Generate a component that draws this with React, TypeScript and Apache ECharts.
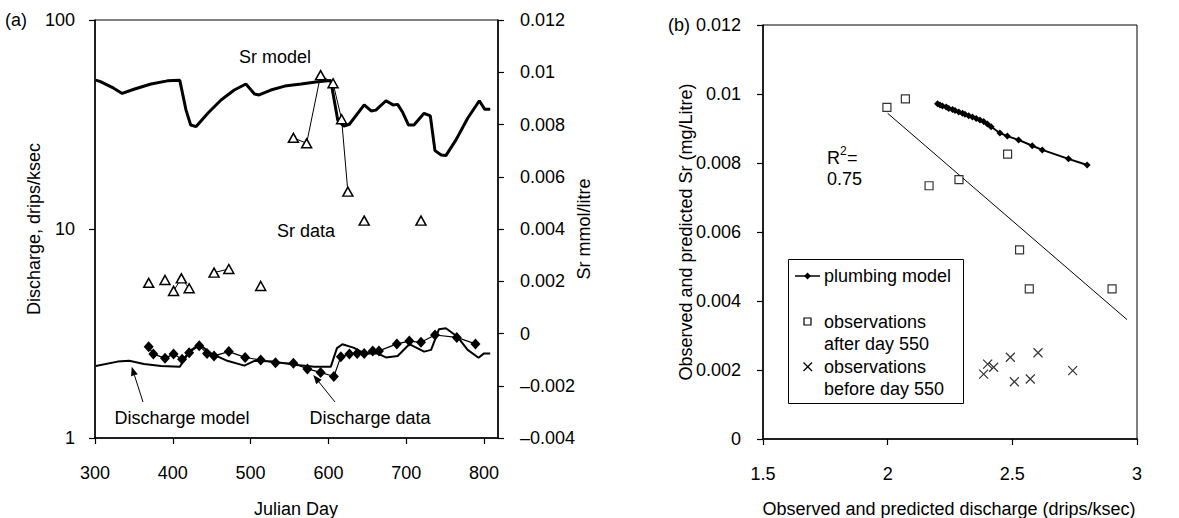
import React, { useEffect, useRef } from "react";
import * as echarts from "echarts";

const FONT = "'Liberation Sans', Arial, Helvetica, sans-serif";

// ---------- Panel (a) ----------
const dayTicks = [300, 400, 500, 600, 700, 800];

const srModelDays = [301, 307, 324, 335, 350, 372, 393, 409, 417, 423, 430, 445, 462, 479, 494, 505, 511, 526, 544, 565, 586, 603, 612, 620, 627, 646, 655, 661, 674, 683, 689, 695, 703, 710, 723, 731, 737, 745, 751, 764, 779, 794, 801, 808];
const srModelVals = [0.0097, 0.00964, 0.00939, 0.00919, 0.00935, 0.00955, 0.00967, 0.00969, 0.00855, 0.00798, 0.00792, 0.00843, 0.00894, 0.00932, 0.00955, 0.00917, 0.00913, 0.00932, 0.00947, 0.00955, 0.00964, 0.00968, 0.00817, 0.00794, 0.00801, 0.00875, 0.00852, 0.00855, 0.00891, 0.00875, 0.00877, 0.00849, 0.00798, 0.00798, 0.00843, 0.00833, 0.007, 0.00683, 0.00681, 0.00741, 0.00824, 0.00891, 0.00858, 0.00858];

const srDataDays = [369, 390, 401, 411, 421, 453, 472, 513, 555, 572, 590, 606, 617, 625, 646, 719];
const srDataVals = [0.00194, 0.00205, 0.00163, 0.00211, 0.00173, 0.00233, 0.00247, 0.00182, 0.00749, 0.00728, 0.00989, 0.00958, 0.0082, 0.00543, 0.00432, 0.00432];
const srDataRun = [0, 1, 2, 2, 2, 3, 3, 4, 5, 5, 5, 5, 5, 5, 6, 7];

const dischModelDays = [301, 329, 344, 363, 385, 409, 421, 434, 449, 470, 492, 505, 530, 556, 582, 603, 611, 618, 633, 646, 663, 674, 689, 704, 723, 732, 742, 751, 766, 779, 793, 800, 808];
const dischModelVals = [2.21, 2.32, 2.34, 2.26, 2.21, 2.19, 2.59, 2.81, 2.54, 2.34, 2.22, 2.34, 2.32, 2.24, 2.19, 2.19, 2.69, 2.81, 2.7, 2.54, 2.54, 2.43, 2.47, 2.81, 2.59, 2.64, 3.31, 3.35, 3.05, 2.64, 2.42, 2.54, 2.54];

const dischDataDays = [369, 375, 390, 401, 412, 421, 434, 444, 453, 472, 493, 513, 532, 555, 573, 590, 607, 616, 627, 637, 646, 657, 665, 688, 704, 719, 737, 765, 789];
const dischDataVals = [2.73, 2.52, 2.41, 2.52, 2.38, 2.56, 2.76, 2.54, 2.47, 2.59, 2.43, 2.36, 2.29, 2.28, 2.14, 2.06, 1.97, 2.45, 2.52, 2.54, 2.54, 2.61, 2.61, 2.82, 2.91, 2.87, 3.11, 3.03, 2.82];

// ---------- Panel (b) ----------
const plumbX = [2.2, 2.21, 2.22, 2.235, 2.245, 2.26, 2.27, 2.285, 2.3, 2.31, 2.325, 2.34, 2.355, 2.37, 2.385, 2.4, 2.415, 2.45, 2.48, 2.525, 2.58, 2.62, 2.725, 2.8];
const plumbY = [0.00972, 0.00968, 0.00965, 0.00962, 0.00958, 0.00955, 0.00952, 0.00948, 0.00944, 0.00941, 0.00937, 0.00933, 0.00929, 0.00925, 0.0092, 0.00913, 0.00905, 0.00887, 0.00878, 0.00867, 0.0085, 0.00838, 0.00812, 0.00794];

const afterX = [1.997, 2.071, 2.166, 2.286, 2.481, 2.529, 2.568, 2.9];
const afterY = [0.00961, 0.00986, 0.00734, 0.00752, 0.00826, 0.00548, 0.00435, 0.00435];

const beforeX = [2.385, 2.401, 2.425, 2.492, 2.508, 2.572, 2.603, 2.742];
const beforeY = [0.00188, 0.00217, 0.00208, 0.00237, 0.00166, 0.00174, 0.0025, 0.00198];

const trendX = [2.0, 2.96];
const trendY = [0.00944, 0.00346];

const zip = (a: number[], b: number[]) => a.map((v, i) => [v, b[i]]);

const fmtNum = (v: number) => {
  const r = parseFloat(v.toFixed(4));
  if (r === 0) return "0";
  const s = String(Math.abs(r));
  return r < 0 ? "\u2013" + s : s;
};

const X_PATH = "path://M0,0L10,10M10,0L0,10";

function txt(text: string, x: number, y: number, opts: any = {}) {
  const align = opts.align || "center";
  return {
    type: "text",
    x,
    y,
    rotation: opts.rotation || 0,
    z: 100,
    style: {
      text,
      fill: "#000",
      fontSize: opts.fontSize || 18,
      fontFamily: FONT,
      align,
      textAlign: align,
      verticalAlign: "middle",
      textVerticalAlign: "middle",
    },
  };
}

function arrow(x1: number, y1: number, x2: number, y2: number) {
  const dx = x2 - x1;
  const dy = y2 - y1;
  const len = Math.sqrt(dx * dx + dy * dy);
  const ux = dx / len;
  const uy = dy / len;
  const hl = 9;
  const hw = 3.5;
  const bx = x2 - ux * hl;
  const by = y2 - uy * hl;
  const px = -uy;
  const py = ux;
  return [
    { type: "line", z: 100, shape: { x1, y1, x2: bx, y2: by }, style: { stroke: "#000", lineWidth: 1 } },
    {
      type: "polygon",
      z: 100,
      shape: { points: [[x2, y2], [bx + px * hw, by + py * hw], [bx - px * hw, by - py * hw]] },
      style: { fill: "#000" },
    },
  ];
}

export default function App() {
  const ref = useRef<HTMLDivElement>(null);

  useEffect(() => {
    if (!ref.current) return;
    const chart = echarts.init(ref.current, undefined, { renderer: "svg" });

    const axisCommon = {
      axisLine: { show: true, onZero: false, lineStyle: { color: "#000", width: 1.5 } },
      axisTick: { show: true, inside: false, length: 6, lineStyle: { color: "#000", width: 1.2 } },
      splitLine: { show: false },
      minorTick: { show: false },
      minorSplitLine: { show: false },
    };
    const labelStyle = { color: "#000", fontSize: 18, fontFamily: FONT };

    const runs = Array.from(new Set(srDataRun));
    const srDataSeries = runs.map((r) => ({
      type: "line",
      xAxisIndex: 0,
      yAxisIndex: 1,
      data: srDataDays.map((d, i) => [d, srDataVals[i]]).filter((_, i) => srDataRun[i] === r),
      symbol: "triangle",
      symbolSize: [10, 9],
      showSymbol: true,
      lineStyle: { color: "#000", width: 1 },
      itemStyle: { color: "#fff", borderColor: "#000", borderWidth: 1.5 },
      z: 5,
    }));

    const option: any = {
      animation: false,
      backgroundColor: "#fff",
      textStyle: { fontFamily: FONT },
      grid: [
        { left: 95, top: 20, width: 403, height: 418, show: true, borderColor: "#000", borderWidth: 1, backgroundColor: "transparent", containLabel: false, outerBoundsMode: "none" },
        { left: 763, top: 25, width: 374, height: 414, show: true, borderColor: "#000", borderWidth: 1, backgroundColor: "transparent", containLabel: false, outerBoundsMode: "none" },
      ],
      xAxis: [
        {
          gridIndex: 0,
          type: "value",
          min: 300,
          max: 818,
          interval: 100,
          ...axisCommon,
          axisLabel: {
            ...labelStyle,
            margin: 26,
            showMaxLabel: false,
            formatter: (v: number) => (dayTicks.includes(Math.round(v)) && Math.abs(v - Math.round(v)) < 1e-6 ? String(Math.round(v)) : ""),
          },
        },
        {
          gridIndex: 1,
          type: "value",
          min: 1.5,
          max: 3,
          interval: 0.5,
          ...axisCommon,
          axisLabel: { ...labelStyle, margin: 26, formatter: (v: number) => fmtNum(v) },
        },
      ],
      yAxis: [
        {
          gridIndex: 0,
          type: "log",
          logBase: 10,
          min: 1,
          max: 100,
          position: "left",
          ...axisCommon,
          axisLabel: { ...labelStyle, margin: 20, formatter: (v: number) => String(Math.round(v)) },
        },
        {
          gridIndex: 0,
          type: "value",
          min: -0.004,
          max: 0.012,
          interval: 0.002,
          position: "right",
          ...axisCommon,
          axisLabel: { ...labelStyle, margin: 22, formatter: (v: number) => fmtNum(v) },
        },
        {
          gridIndex: 1,
          type: "value",
          min: 0,
          max: 0.012,
          interval: 0.002,
          position: "left",
          ...axisCommon,
          axisLabel: { ...labelStyle, margin: 22, formatter: (v: number) => fmtNum(v) },
        },
      ],
      series: [
        {
          type: "line",
          xAxisIndex: 0,
          yAxisIndex: 1,
          data: zip(srModelDays, srModelVals),
          showSymbol: false,
          symbol: "none",
          lineStyle: { color: "#000", width: 3 },
          z: 3,
        },
        ...srDataSeries,
        {
          type: "line",
          xAxisIndex: 0,
          yAxisIndex: 0,
          data: zip(dischModelDays, dischModelVals),
          showSymbol: false,
          symbol: "none",
          lineStyle: { color: "#000", width: 2 },
          z: 3,
        },
        {
          type: "line",
          xAxisIndex: 0,
          yAxisIndex: 0,
          data: zip(dischDataDays, dischDataVals),
          symbol: "diamond",
          symbolSize: [10, 11],
          showSymbol: true,
          lineStyle: { color: "#000", width: 1.2 },
          itemStyle: { color: "#000", borderColor: "#000", borderWidth: 0 },
          z: 4,
        },
        // panel (b)
        {
          type: "line",
          xAxisIndex: 1,
          yAxisIndex: 2,
          data: zip(trendX, trendY),
          showSymbol: false,
          symbol: "none",
          lineStyle: { color: "#000", width: 1 },
          z: 3,
        },
        {
          type: "line",
          xAxisIndex: 1,
          yAxisIndex: 2,
          data: zip(plumbX, plumbY),
          symbol: "diamond",
          symbolSize: 7,
          showSymbol: true,
          lineStyle: { color: "#000", width: 2 },
          itemStyle: { color: "#000", borderWidth: 0 },
          z: 4,
        },
        {
          type: "scatter",
          xAxisIndex: 1,
          yAxisIndex: 2,
          data: zip(afterX, afterY),
          symbol: "rect",
          symbolSize: 8,
          itemStyle: { color: "#fff", borderColor: "#000", borderWidth: 1.2 },
          z: 5,
        },
        {
          type: "scatter",
          xAxisIndex: 1,
          yAxisIndex: 2,
          data: zip(beforeX, beforeY),
          symbol: X_PATH,
          symbolSize: 9,
          itemStyle: { color: "none", borderColor: "#000", borderWidth: 1.2 },
          z: 5,
        },
      ],
      graphic: [
        txt("(a)", 5, 20, { align: "left" }),
        txt("(b)", 668, 25, { align: "left" }),
        txt("Discharge, drips/ksec", 34, 229, { rotation: Math.PI / 2 }),
        txt("Sr mmol/litre", 584, 229, { rotation: Math.PI / 2 }),
        txt("Julian Day", 296, 509),
        txt("Observed and predicted Sr (mg/Litre)", 686, 232, { rotation: Math.PI / 2 }),
        txt("Observed and predicted discharge (drips/ksec)", 949, 509),
        txt("Sr model", 275, 57),
        txt("Sr data", 306, 231),
        txt("Discharge model", 182, 418),
        txt("Discharge data", 370, 418),
        ...arrow(143, 402, 131.7, 366.7),
        ...arrow(335, 402, 313.3, 375),
        txt("R", 827, 158, { align: "left" }),
        txt("2", 840, 151, { align: "left", fontSize: 12 }),
        txt("=", 847, 158, { align: "left" }),
        txt("0.75", 827, 179, { align: "left" }),
        // legend box
        {
          type: "rect",
          z: 90,
          shape: { x: 788.5, y: 259.5, width: 175, height: 144 },
          style: { fill: "#fff", stroke: "#000", lineWidth: 1 },
        },
        { type: "line", z: 100, shape: { x1: 795, y1: 276, x2: 820, y2: 276 }, style: { stroke: "#000", lineWidth: 1.5 } },
        {
          type: "polygon",
          z: 101,
          shape: { points: [[807.5, 272.5], [811, 276], [807.5, 279.5], [804, 276]] },
          style: { fill: "#000" },
        },
        txt("plumbing model", 824, 276, { align: "left" }),
        {
          type: "rect",
          z: 100,
          shape: { x: 804, y: 318, width: 7, height: 7 },
          style: { fill: "#fff", stroke: "#000", lineWidth: 1.2 },
        },
        txt("observations", 824, 322, { align: "left" }),
        txt("after day 550", 824, 344, { align: "left" }),
        { type: "line", z: 100, shape: { x1: 803.5, y1: 362.5, x2: 812, y2: 371 }, style: { stroke: "#000", lineWidth: 1.2 } },
        { type: "line", z: 100, shape: { x1: 812, y1: 362.5, x2: 803.5, y2: 371 }, style: { stroke: "#000", lineWidth: 1.2 } },
        txt("observations", 824, 367, { align: "left" }),
        txt("before day 550", 824, 389, { align: "left" }),
      ],
    };

    chart.setOption(option);
    return () => {
      chart.dispose();
    };
  }, []);

  return (
    <div
      ref={ref}
      style={{ position: "fixed", left: 0, top: 0, width: 1179, height: 518, background: "#fff" }}
    />
  );
}
